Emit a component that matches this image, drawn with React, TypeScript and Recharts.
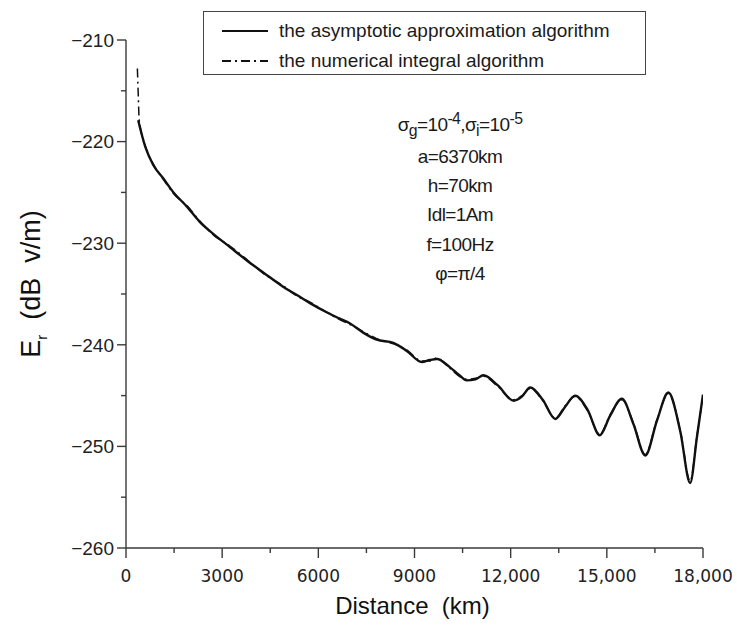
import { LineChart, Line, XAxis, YAxis } from 'recharts';

// distance (km) and field strength (dB v/m)
const asymDist = [
  380, 600, 850, 1160, 1480, 1900, 2300, 2730, 3250, 3770, 4290, 4910, 5330, 5740, 6260, 6650,
  6990, 7400, 7820, 8340, 8760, 9230, 9480, 9700, 10100, 10400, 10630, 10900, 11150, 11600,
  12090, 12350, 12610, 13000, 13390, 13700, 14010, 14400, 14780, 15100, 15470, 15830, 16200,
  16560, 16920, 17290, 17600, 17810, 18000,
];
const asymE = [
  -217.9, -220.5, -222.3, -223.6, -225.0, -226.4, -227.9, -229.1, -230.4, -231.7, -232.9, -234.3,
  -235.1, -235.9, -236.8, -237.4, -237.9, -238.8, -239.5, -239.8, -240.6, -241.7, -241.5, -241.4,
  -242.2, -243.0, -243.5, -243.4, -243.0, -244.0, -245.5, -245.1, -244.2, -245.4, -247.3, -246.1,
  -245.0, -246.4, -248.9, -247.0, -245.3, -247.8, -250.9, -247.5, -244.7, -248.5, -253.6, -249.1,
  -244.9,
];

const numDist = [
  355, 385, 410, 600, 850, 1160, 1480, 1900, 2300, 2730, 3250, 3770, 4290, 4910, 5330, 5740, 6260,
  6650, 6990, 7400, 7820, 8340, 8760, 9230, 9480, 9700, 10100, 10400, 10630, 10900, 11150, 11600,
  12090, 12350, 12610, 13000, 13390, 13700, 14010, 14400, 14780, 15100, 15470, 15830, 16200,
  16560, 16920, 17290, 17600, 17810, 18000,
];
const numE = [
  -212.8, -215.6, -217.8, -220.4, -222.2, -223.7, -225.1, -226.3, -227.8, -229.2, -230.3, -231.6,
  -233.0, -234.2, -235.2, -235.8, -236.8, -237.5, -238.0, -238.7, -239.4, -239.9, -240.5, -241.6,
  -241.6, -241.3, -242.3, -243.1, -243.4, -243.3, -243.1, -244.1, -245.4, -245.0, -244.3, -245.5,
  -247.2, -246.0, -245.1, -246.5, -248.8, -246.9, -245.4, -247.7, -250.8, -247.4, -244.8, -248.4,
  -253.4, -249.0, -245.0,
];

const xTicks = [0, 1500, 3000, 4500, 6000, 7500, 9000, 10500, 12000, 13500, 15000, 16500, 18000];
const yTicks = [-260, -255, -250, -245, -240, -235, -230, -225, -220, -215, -210];

const legendItems = ['the asymptotic approximation algorithm', 'the numerical integral algorithm'];

const asymData = asymDist.map((d, i) => ({ x: d, y: asymE[i] }));
const numData = numDist.map((d, i) => ({ x: d, y: numE[i] }));

const AXIS = '#3a3a3a';

const YTick = (props: any) => {
  const { x, y, payload } = props;
  const major = payload.value % 10 === 0;
  return (
    <g>
      <line x1={x} x2={x - (major ? 9 : 5)} y1={y} y2={y} stroke={AXIS} strokeWidth={1.4} />
      {major && (
        <text x={x - 12} y={y} dy="0.36em" textAnchor="end" fill="#222"
          style={{ fontFamily: 'Liberation Sans, Arial, sans-serif', fontSize: 19 }}>
          {'\u2212' + Math.abs(payload.value)}
        </text>
      )}
    </g>
  );
};

const XTick = (props: any) => {
  const { x, y, payload } = props;
  const major = payload.value % 3000 === 0;
  const v = payload.value;
  const label = v >= 10000 ? v.toLocaleString('en-US') : String(v);
  return (
    <g>
      <line x1={x} x2={x} y1={y} y2={y + (major ? 10 : 5)} stroke={AXIS} strokeWidth={1.4} />
      {major && (
        <text x={x} y={y + 34} textAnchor="middle" fill="#222"
          style={{ fontFamily: 'DejaVu Sans, Verdana, sans-serif', fontSize: 17 }}>
          {label}
        </text>
      )}
    </g>
  );
};

const XLabel = (props: any) => {
  const { viewBox } = props;
  const cx = viewBox.x + viewBox.width / 2;
  return (
    <text x={cx - 2} y={614} textAnchor="middle" fill="#111"
      style={{ fontFamily: 'Liberation Sans, Arial, sans-serif', fontSize: 24 }}>
      {'Distance\u00a0\u00a0(km)'}
    </text>
  );
};

const YLabel = () => (
  <text transform="rotate(-90, 40, 284)" x={40} y={284} textAnchor="middle" fill="#111"
    style={{ fontFamily: 'Liberation Sans, Arial, sans-serif', fontSize: 27 }}>
    E<tspan fontSize={15} dy={7}>r</tspan>
    <tspan dy={-7}>{'\u00a0\u00a0(dB\u00a0\u00a0v/m)'}</tspan>
  </text>
);

const LegendSample = ({ dashed }: { dashed: boolean }) => (
  <svg width={48} height={10} style={{ display: 'block' }}>
    <line x1={0} x2={46} y1={5} y2={5} stroke="#111" strokeWidth={2}
      strokeDasharray={dashed ? '9 4 2 4' : undefined} />
  </svg>
);

const annoLines = [
  <>σ<sub>g</sub>=10<sup>-4</sup>,σ<sub>i</sub>=10<sup>-5</sup></>,
  'a=6370km',
  'h=70km',
  'Idl=1Am',
  'f=100Hz',
  'φ=π/4',
];
const annoTop = [107, 145, 174, 203, 233, 262];

export default function App() {
  return (
    <div style={{ position: 'absolute', left: 0, top: 0, width: 737, height: 633, background: '#fff' }}>
      <LineChart width={737} height={633} margin={{ top: 40, right: 34, bottom: 0, left: 0 }}>
        <XAxis
          dataKey="x"
          type="number"
          domain={[0, 18000]}
          ticks={xTicks}
          interval={0}
          tickSize={0}
          tickMargin={0}
          height={85}
          axisLine={{ stroke: AXIS, strokeWidth: 1.4 }}
          tick={<XTick />}
          label={<XLabel />}
          allowDataOverflow
        />
        <YAxis
          dataKey="y"
          type="number"
          domain={[-260, -210]}
          ticks={yTicks}
          interval={0}
          tickSize={0}
          tickMargin={0}
          width={126}
          axisLine={{ stroke: AXIS, strokeWidth: 1.4 }}
          tick={<YTick />}
          label={<YLabel />}
          allowDataOverflow
        />
        <Line data={asymData} dataKey="y" type="monotone" stroke="#111" strokeWidth={2.4}
          dot={false} isAnimationActive={false} />
        <Line data={numData} dataKey="y" type="monotone" stroke="#111" strokeWidth={1.5}
          strokeDasharray="9 4 2 4" dot={false} isAnimationActive={false} />
      </LineChart>

      <div style={{
        position: 'absolute', left: 203, top: 11, width: 441, height: 62,
        border: '1.5px solid #444', background: '#fff',
        fontFamily: 'Liberation Sans, Arial, sans-serif', fontSize: 19, color: '#1a1a1a',
      }}>
        {legendItems.map((t, i) => (
          <div key={t} style={{ position: 'absolute', left: 18, top: 8 + i * 30, display: 'flex', alignItems: 'center', gap: 9 }}>
            <LegendSample dashed={i === 1} />
            <span>{t}</span>
          </div>
        ))}
      </div>

      {annoLines.map((l, i) => (
        <div key={i} style={{
          position: 'absolute', left: 360, width: 200, top: annoTop[i], textAlign: 'center',
          fontFamily: 'Liberation Sans, Arial, sans-serif', fontSize: 19, color: '#1a1a1a',
          letterSpacing: -0.6, lineHeight: '24px',
        }}>
          {l}
        </div>
      ))}
    </div>
  );
}
